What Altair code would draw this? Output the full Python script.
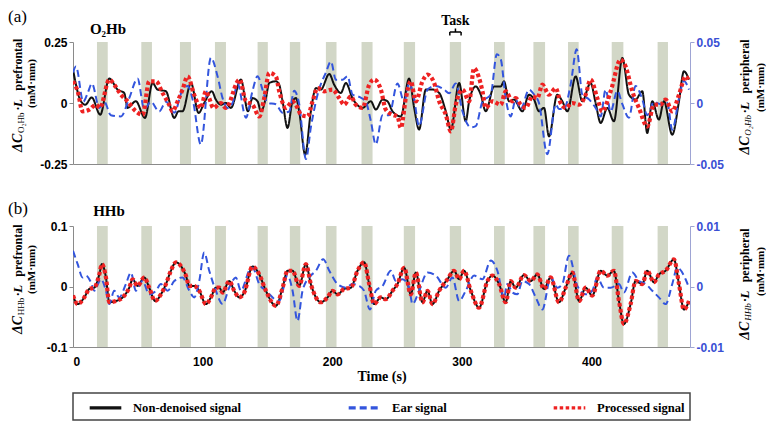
import altair as alt
import pandas as pd

# ---------------- data ----------------
task_start = [18.5, 52.7, 82.5, 109.5, 142.4, 167.3, 195.1, 222.6, 255.2, 290.7, 324.8, 355.2, 381.9, 415.6, 451.0]
task_end = [26.8, 60.9, 91.0, 118.0, 150.3, 175.3, 203.3, 231.1, 263.9, 299.4, 333.1, 364.2, 390.1, 424.6, 459.0]
task_label_index = 9

series_names = ["Non-denoised signal", "Ear signal", "Processed signal"]

x_ticks = [0, 100, 200, 300, 400]
x_domain = [0, 476]

# panel (a) O2Hb  (time s, value)
a_black = [(0.0, 0.137), (6.1, 0.007), (9.5, -0.007), (14.4, 0.023), (21.0, -0.048), (28.0, 0.100), (34.4, 0.055),
           (39.5, 0.041), (42.1, -0.020), (48.5, 0.007), (55.5, -0.061), (61.4, 0.082), (65.2, 0.055), (71.7, 0.048),
           (78.1, -0.061), (81.4, -0.034), (84.5, -0.034), (91.0, 0.082), (96.9, -0.041), (101.2, 0.0), (107.1, 0.048),
           (110.2, 0.014), (114.1, -0.007), (117.9, 0.0), (121.8, -0.020), (129.5, 0.096), (135.0, -0.034),
           (138.5, 0.020), (142.4, 0.007), (145.0, -0.034), (148.8, 0.020), (151.4, 0.082), (156.5, 0.089),
           (159.1, 0.075), (161.7, 0.007), (165.5, -0.102), (169.4, 0.007), (172.0, 0.020), (174.5, -0.034),
           (179.1, -0.212), (183.5, -0.034), (187.4, 0.061), (191.2, 0.055), (197.7, 0.119), (201.5, 0.075),
           (206.6, 0.041), (210.5, 0.082), (215.6, 0.020), (223.4, -0.020), (229.8, 0.007), (233.6, -0.027),
           (238.8, 0.014), (242.6, 0.007), (246.5, -0.034), (252.9, -0.055), (259.3, 0.100), (263.2, -0.020),
           (267.0, -0.109), (272.2, 0.055), (277.3, 0.055), (282.5, 0.041), (287.6, -0.034), (291.5, -0.109),
           (297.9, 0.082), (303.0, -0.075), (305.6, 0.007), (310.7, 0.068), (314.6, 0.034), (318.4, -0.034),
           (324.9, 0.068), (330.0, 0.068), (332.5, 0.089), (336.4, 0.007), (340.2, 0.014), (346.7, -0.034),
           (351.8, 0.034), (355.7, 0.014), (359.5, -0.034), (363.4, -0.020), (367.2, -0.137), (373.6, 0.034),
           (377.5, 0.007), (381.4, -0.034), (387.8, 0.109), (392.9, 0.007), (399.3, 0.082), (403.2, 0.0),
           (407.1, -0.082), (412.2, -0.020), (417.3, -0.075), (423.8, 0.184), (428.9, 0.034), (434.0, 0.014),
           (439.2, 0.048), (443.0, -0.123), (446.9, 0.007), (452.0, -0.068), (455.9, 0.007), (462.3, -0.130),
           (467.5, 0.007), (471.3, 0.130), (475.2, 0.096)]

a_ear = [(0.0, 0.025), (2.3, 0.030), (7.9, 0.001), (11.3, 0.008), (14.6, 0.016), (20.3, -0.004), (24.1, 0.001),
         (29.2, -0.010), (37.0, -0.011), (43.4, 0.004), (49.8, 0.020), (55.0, -0.005), (60.1, 0.001), (66.5, -0.007),
         (71.7, 0.001), (78.1, -0.008), (84.5, 0.011), (88.4, 0.014), (92.7, 0.001), (98.6, -0.034), (106.4, 0.037),
         (111.5, 0.022), (115.4, 0.004), (119.2, -0.004), (123.1, 0.0), (126.9, 0.016), (133.4, -0.012),
         (138.5, 0.010), (142.4, 0.022), (146.2, 0.011), (150.1, 0.0), (156.5, -0.001), (161.7, -0.008),
         (166.8, -0.007), (170.7, 0.010), (174.5, -0.001), (179.7, -0.046), (183.5, -0.020), (188.7, 0.007),
         (195.1, 0.025), (199.0, 0.034), (202.8, 0.019), (207.9, 0.019), (211.8, 0.022), (215.6, 0.007),
         (220.8, 0.005), (225.9, 0.001), (229.8, -0.015), (233.6, -0.034), (238.8, -0.010), (243.9, -0.010),
         (250.3, 0.016), (255.5, 0.001), (259.3, 0.016), (263.2, 0.003), (267.0, -0.019), (273.5, 0.011),
         (279.9, 0.014), (286.3, 0.011), (290.2, 0.008), (295.3, 0.016), (300.5, -0.007), (306.9, -0.020),
         (310.7, -0.019), (315.9, 0.001), (322.3, 0.007), (327.0, 0.040), (330.0, 0.036), (333.8, 0.004),
         (337.7, -0.011), (341.5, 0.003), (345.4, -0.005), (351.8, 0.011), (355.7, 0.007), (359.5, 0.0),
         (365.9, -0.042), (372.4, -0.001), (374.9, -0.005), (378.8, -0.005), (383.9, 0.015), (388.6, 0.044),
         (392.9, 0.007), (398.1, 0.003), (403.2, -0.004), (407.1, -0.011), (410.9, 0.011), (414.8, -0.007),
         (419.9, 0.010), (423.8, -0.001), (428.9, -0.012), (434.0, 0.014), (439.2, 0.003), (443.0, -0.010),
         (448.2, 0.001), (453.3, -0.001), (458.5, 0.0), (462.3, -0.022), (467.5, 0.004), (471.3, 0.018),
         (475.2, 0.011)]

a_proc = [(0.0, 0.089), (3.6, 0.048), (7.4, -0.034), (12.6, -0.027), (17.7, -0.007), (20.8, -0.020), (28.0, 0.096),
          (31.8, 0.075), (37.0, 0.034), (42.1, 0.007), (48.5, -0.034), (53.7, -0.048), (58.8, 0.089), (64.0, 0.089),
          (69.1, 0.041), (74.2, -0.007), (76.8, -0.034), (80.7, 0.007), (84.5, 0.055), (88.4, 0.109), (93.5, 0.034),
          (98.7, -0.020), (102.5, 0.048), (105.1, 0.020), (108.2, -0.020), (114.1, 0.0), (117.9, -0.020),
          (128.5, 0.096), (133.4, 0.007), (138.5, -0.007), (143.7, -0.055), (147.5, 0.020), (151.4, 0.123),
          (156.5, 0.109), (159.1, 0.048), (164.2, -0.020), (169.4, 0.007), (173.2, -0.020), (175.8, -0.048),
          (181.0, -0.055), (184.8, 0.007), (188.7, 0.061), (193.8, 0.048), (200.2, 0.055), (205.4, 0.020),
          (209.2, -0.007), (214.4, 0.027), (218.2, -0.007), (223.4, -0.020), (228.5, 0.075), (232.3, 0.096),
          (237.5, 0.055), (241.3, -0.027), (246.5, -0.048), (250.3, -0.055), (252.9, -0.102), (256.8, 0.020),
          (260.6, 0.089), (264.5, 0.007), (269.6, 0.089), (273.5, 0.116), (278.6, 0.082), (282.5, 0.007),
          (287.6, -0.048), (291.5, -0.116), (295.3, -0.007), (300.5, 0.055), (305.6, 0.007), (309.4, 0.143),
          (313.3, 0.102), (315.9, 0.048), (318.4, -0.020), (323.6, 0.007), (330.0, -0.007), (333.8, 0.048),
          (339.0, 0.007), (341.5, 0.020), (345.4, -0.007), (349.2, -0.020), (354.4, 0.027), (358.2, 0.020),
          (362.1, 0.075), (367.2, 0.034), (372.4, 0.061), (376.2, 0.0), (380.1, -0.020), (385.2, 0.0),
          (390.4, -0.007), (395.5, 0.034), (399.3, 0.096), (404.5, 0.020), (408.3, -0.034), (414.8, 0.048),
          (422.5, 0.178), (426.3, 0.150), (431.5, 0.048), (436.6, -0.020), (443.0, -0.096), (448.2, -0.007),
          (453.3, -0.007), (457.2, 0.014), (462.3, -0.034), (467.5, 0.034), (472.6, 0.109), (475.2, 0.089)]

# panel (b) HHb
b_black = [(0.0, -0.015), (3.6, -0.029), (8.7, -0.018), (12.6, -0.004), (16.4, -0.002), (20.3, 0.020), (22.3, 0.037),
           (25.4, 0.015), (28.0, -0.026), (33.1, -0.024), (38.3, -0.018), (43.4, -0.002), (46.0, 0.012),
           (49.8, 0.001), (55.0, 0.015), (58.8, -0.002), (63.4, -0.024), (67.8, -0.013), (71.7, 0.004),
           (75.5, 0.026), (79.4, 0.040), (83.2, 0.034), (87.1, 0.018), (89.7, 0.001), (93.5, 0.001), (97.4, -0.007),
           (102.5, -0.029), (106.4, -0.018), (110.2, -0.002), (112.8, -0.002), (115.4, -0.010), (120.5, 0.009),
           (124.4, -0.007), (128.2, -0.018), (132.1, -0.010), (138.5, 0.033), (143.7, 0.020), (148.8, -0.007),
           (156.5, -0.032), (161.7, -0.002), (165.5, 0.026), (169.4, 0.026), (174.5, 0.001), (179.7, 0.037),
           (183.5, 0.004), (191.2, -0.026), (196.4, -0.018), (200.2, -0.007), (204.1, -0.013), (209.2, -0.004),
           (214.4, -0.002), (219.5, 0.026), (224.6, 0.040), (228.5, 0.004), (232.3, -0.029), (237.5, -0.018),
           (241.3, -0.021), (246.5, -0.007), (250.3, 0.004), (255.5, 0.031), (260.6, -0.013), (264.5, 0.023),
           (269.6, -0.026), (273.5, -0.007), (277.3, -0.029), (282.5, -0.007), (288.9, 0.012), (294.0, 0.026),
           (297.9, 0.012), (301.7, 0.026), (306.9, -0.007), (313.3, -0.035), (319.7, 0.009), (323.6, 0.018),
           (328.7, 0.004), (333.8, -0.026), (337.7, 0.009), (341.5, -0.002), (347.9, 0.019), (353.1, 0.009),
           (358.2, 0.020), (363.4, -0.004), (368.5, 0.015), (374.9, -0.026), (380.1, -0.002), (385.2, 0.023),
           (390.4, -0.024), (395.5, -0.002), (400.6, -0.015), (407.1, 0.026), (412.2, 0.018), (417.3, 0.026),
           (421.2, -0.024), (425.0, -0.062), (430.2, -0.029), (434.0, 0.009), (439.2, 0.004), (443.0, 0.026),
           (448.2, 0.007), (452.0, 0.020), (457.2, 0.026), (463.6, 0.045), (467.5, 0.004), (471.3, -0.038),
           (475.2, -0.024)]

b_ear = [(0.0, 0.0059), (3.6, 0.0037), (7.4, 0.0015), (10.0, 0.0018), (13.8, 0.0007), (16.4, -0.0007), (21.6, 0.0012),
         (25.4, -0.0007), (28.0, -0.0029), (31.8, -0.0007), (35.7, -0.0018), (40.8, 0.0004), (44.7, 0.0023),
         (48.5, -0.0007), (53.7, 0.0009), (58.8, -0.0013), (64.0, -0.0007), (67.8, 0.0004), (73.0, -0.0007),
         (78.1, 0.0009), (84.5, 0.0015), (89.7, -0.0007), (93.5, -0.0018), (97.4, 0.0009), (101.2, 0.0056),
         (105.1, 0.0026), (110.2, -0.0007), (115.4, -0.0029), (120.5, -0.0002), (125.6, 0.0015), (129.5, -0.0007),
         (135.9, 0.0026), (138.5, 0.0031), (143.7, 0.0004), (148.8, -0.0007), (159.1, -0.0024), (165.5, 0.0018),
         (169.4, -0.0007), (173.2, -0.0057), (177.1, -0.0007), (182.2, 0.0015), (187.4, 0.0026), (193.0, 0.0045),
         (197.7, 0.0026), (204.1, 0.0004), (210.5, -0.0002), (215.6, 0.0004), (220.8, 0.0001), (224.6, -0.0007),
         (229.0, -0.0038), (233.6, -0.0007), (238.8, 0.0001), (245.2, 0.0026), (249.1, 0.0009), (254.2, 0.0012),
         (259.3, -0.0002), (261.9, -0.0029), (267.0, -0.0007), (273.5, 0.0023), (279.9, 0.0018), (287.6, -0.0002),
         (292.7, 0.0015), (297.9, -0.0024), (303.0, -0.0007), (309.4, 0.0018), (315.9, 0.0012), (322.3, 0.0043),
         (327.4, 0.0026), (332.5, -0.0018), (335.1, 0.0004), (339.0, -0.0010), (342.8, -0.0013), (346.7, 0.0009),
         (351.8, 0.0004), (357.0, -0.0018), (362.1, -0.0038), (368.5, 0.0015), (373.7, -0.0002), (377.5, 0.0004),
         (382.6, 0.0051), (389.1, 0.0001), (395.5, -0.0013), (400.6, -0.0007), (404.5, 0.0015), (409.6, -0.0002),
         (414.8, -0.0002), (421.2, 0.0004), (425.0, -0.0010), (431.5, 0.0023), (436.6, 0.0009), (441.8, 0.0004),
         (446.9, -0.0007), (452.0, -0.0018), (457.2, -0.0029), (462.3, 0.0004), (466.2, 0.0031), (472.6, 0.0012),
         (475.2, -0.0002)]

# the processed HHb signal lies on top of the non-denoised one in the picture
b_proc = list(b_black)

a_left_ticks = [-0.25, 0, 0.25]
a_right_ticks = [-0.05, 0, 0.05]
b_left_ticks = [-0.1, 0, 0.1]
b_right_ticks = [-0.01, 0, 0.01]

# ---------------- styling ----------------
BLACK = "#111111"
BLUE = "#3355dd"
RED = "#ee2222"
BAR = "#d2d7c7"
SERIF = "Liberation Serif"
SANS = "Liberation Sans"
W = 617
HA = 122
HB = 121

color_scale = alt.Scale(domain=series_names, range=[BLACK, BLUE, RED])
dash_scale = alt.Scale(domain=series_names, range=[[1, 0], [7, 4], [3.5, 2.5]])
line_widths = {series_names[0]: 2, series_names[1]: 2, series_names[2]: 4.2}
xscale = alt.Scale(domain=x_domain, nice=False, zero=False)

tasks_df = pd.DataFrame({"t": task_start, "t2": task_end})

# approximate glyph advance widths (em) of the bold serif face, for laying out rotated titles
CW = {"\u0394": .61, "C": .70, "O": .76, "H": .76, "b": .54, "\u2082": .42, "\u00b7": .25, "L": .63, " ": .25,
      "p": .556, "r": .444, "e": .444, "f": .333, "o": .5, "n": .556, "t": .333, "a": .5, "l": .278,
      "i": .278, "h": .556, "(": .333, ")": .333, "m": .833, "M": .944}


def seg_len(s, size):
    return sum(CW.get(c, 0.5) for c in s) * size


def rot_line(segments, xc, yc):
    """segments: (text, size, italic, subscript, gap_before). Text reads bottom-to-top, centred on (xc, yc)."""
    total = sum(seg_len(s, z) + g for s, z, _, _, g in segments)
    y = yc + total / 2
    out = []
    for s, z, ital, sub, g in segments:
        y -= g
        out.append(alt.Chart(alt.Data(values=[{"s": s}])).mark_text(
            angle=270, align="left", baseline="alphabetic", font=SERIF, fontSize=z,
            fontStyle="italic" if ital else "normal", fontWeight="normal" if sub else "bold", color="black"
        ).encode(text="s:N", x=alt.value(xc + 3.5 + (2.5 if sub else 0)), y=alt.value(y)))
        y -= seg_len(s, z)
    return out


def y_title(species, place, xc1, xc2, yc1, yc2, sub_italic):
    line1 = [("\u0394C", 14, True, False, 0), (species, 9, sub_italic, True, 0.5), ("\u00b7L", 13, True, False, 0.5),
             (place, 12, False, False, 8)]
    line2 = [("(mM\u00b7mm)", 11, False, False, 0)]
    return rot_line(line1, xc1, yc1) + rot_line(line2, xc2, yc2)


def y_axis(vals, orient, color, domain_color):
    return alt.Axis(values=vals, orient=orient, labelExpr="'' + datum.value", labelFont=SANS,
                    labelFontWeight="bold", labelFontSize=12, labelColor=color, labelPadding=2,
                    tickSize=4, tickColor=domain_color, domainColor=domain_color, grid=False, title=None)


def text_layer(s, x, y, size, weight="bold", align="left", baseline="top"):
    return alt.Chart(alt.Data(values=[{"s": s}])).mark_text(
        align=align, baseline=baseline, font=SERIF, fontSize=size, fontWeight=weight, color="black"
    ).encode(text="s:N", x=alt.value(x), y=alt.value(y))


def make_panel(black, ear, proc, left_dom, left_vals, right_dom, right_vals, height, x_axis, legend, extra):
    def line(pairs, name, dom, axis):
        df = pd.DataFrame(pairs, columns=["t", "v"])
        df["series"] = name
        return alt.Chart(df).mark_line(interpolate="monotone", clip=True, strokeWidth=line_widths[name]).encode(
            x=alt.X("t:Q", scale=xscale, axis=x_axis),
            y=alt.Y("v:Q", scale=alt.Scale(domain=dom, nice=False, zero=False), axis=axis),
            color=alt.Color("series:N", scale=color_scale, legend=legend),
            strokeDash=alt.StrokeDash("series:N", scale=dash_scale, legend=legend),
        )

    bars = alt.Chart(tasks_df).mark_rect(color=BAR).encode(
        x=alt.X("t:Q", scale=xscale, axis=x_axis), x2="t2:Q",
        y=alt.value(0), y2=alt.value(height))
    l_black = line(black, series_names[0], left_dom, y_axis(left_vals, "left", "black", "#8a8a8a"))
    l_ear = line(ear, series_names[1], right_dom, y_axis(right_vals, "right", "#3a4fd4", "#9ea4d4"))
    l_proc = line(proc, series_names[2], left_dom, None)
    return alt.layer(bars, l_black, l_ear, l_proc, *extra).resolve_scale(y="independent").properties(
        width=W, height=height)


# ---------------- panel (a) ----------------
xa_axis = alt.Axis(labels=False, ticks=False, title=None, grid=False, domainColor="#8a8a8a")
task_mid = (task_start[task_label_index] + task_end[task_label_index]) / 2
task_df = pd.DataFrame({"t": [task_start[task_label_index]], "t2": [task_end[task_label_index]], "m": [task_mid],
                        "s": ["Task"]})
task_text = alt.Chart(task_df).mark_text(font=SERIF, fontSize=14, fontWeight="bold", baseline="alphabetic",
                                         color="black").encode(
    x=alt.X("m:Q", scale=xscale, axis=xa_axis), y=alt.value(-17), text="s:N")
task_bar = alt.Chart(task_df).mark_rule(color="black", strokeWidth=1.5).encode(
    x=alt.X("t:Q", scale=xscale, axis=xa_axis), x2="t2:Q", y=alt.value(-10))
ends_df = pd.DataFrame({"t": [task_start[task_label_index], task_end[task_label_index]]})
task_ends = alt.Chart(ends_df).mark_rule(color="black", strokeWidth=1.5).encode(
    x=alt.X("t:Q", scale=xscale, axis=xa_axis), y=alt.value(-10), y2=alt.value(-6.5))
task_mid_tick = alt.Chart(task_df).mark_rule(color="black", strokeWidth=1.5).encode(
    x=alt.X("m:Q", scale=xscale, axis=xa_axis), y=alt.value(-13.5), y2=alt.value(-10))

panel_a = make_panel(
    a_black, a_ear, a_proc, [-0.25, 0.25], a_left_ticks, [-0.05, 0.05], a_right_ticks,
    HA, xa_axis, None,
    [text_layer("(a)", -65, -33, 17, weight="normal"),
     text_layer("O\u2082Hb", 35, -8, 15, align="center", baseline="alphabetic"),
     task_text, task_bar, task_ends, task_mid_tick]
    + y_title("O\u2082Hb", "prefrontal", -55, -42, 53, 42, False)
    + y_title("O\u2082Hb", "peripheral", W + 55, W + 70, 55, 46, True))

# ---------------- panel (b) ----------------
xb_axis = alt.Axis(values=x_ticks, labels=True, ticks=False, grid=False, domainColor="#8a8a8a",
                   labelFont=SANS, labelFontWeight="bold", labelFontSize=12, labelColor="black", labelPadding=9,
                   title="Time (s)", titleFont=SERIF, titleFontSize=14, titleFontWeight="bold",
                   titleColor="black", titlePadding=2)
legend = alt.Legend(orient="none", legendX=15, legendY=164, direction="horizontal", columns=3, title=None,
                    labelFont=SERIF, labelFontSize=12.6, labelFontWeight="bold", labelColor="black",
                    symbolType="stroke", symbolSize=1000, symbolStrokeWidth=3.2, columnPadding=100,
                    labelOffset=10, padding=0)
legend_box = alt.Chart(alt.Data(values=[{}])).mark_rect(filled=False, stroke="#444444", strokeWidth=1.5).encode(
    x=alt.value(0), x2=alt.value(W), y=alt.value(167), y2=alt.value(194))

panel_b = make_panel(
    b_black, b_ear, b_proc, [-0.1, 0.1], b_left_ticks, [-0.01, 0.01], b_right_ticks,
    HB, xb_axis, legend,
    [text_layer("(b)", -65, -25, 17, weight="normal"),
     text_layer("HHb", 36, -10, 15, align="center", baseline="alphabetic"),
     legend_box]
    + y_title("HHb", "prefrontal", -55, -42, 53, 44, False)
    + y_title("HHb", "peripheral", W + 55, W + 70, 58, 46, True))

chart = alt.vconcat(panel_a, panel_b, spacing=62, bounds="flush").resolve_scale(
    color="independent", strokeDash="independent"
).properties(padding=0).configure_view(stroke=None)

chart.save("out.html", embed_options={"renderer": "svg", "actions": False})
